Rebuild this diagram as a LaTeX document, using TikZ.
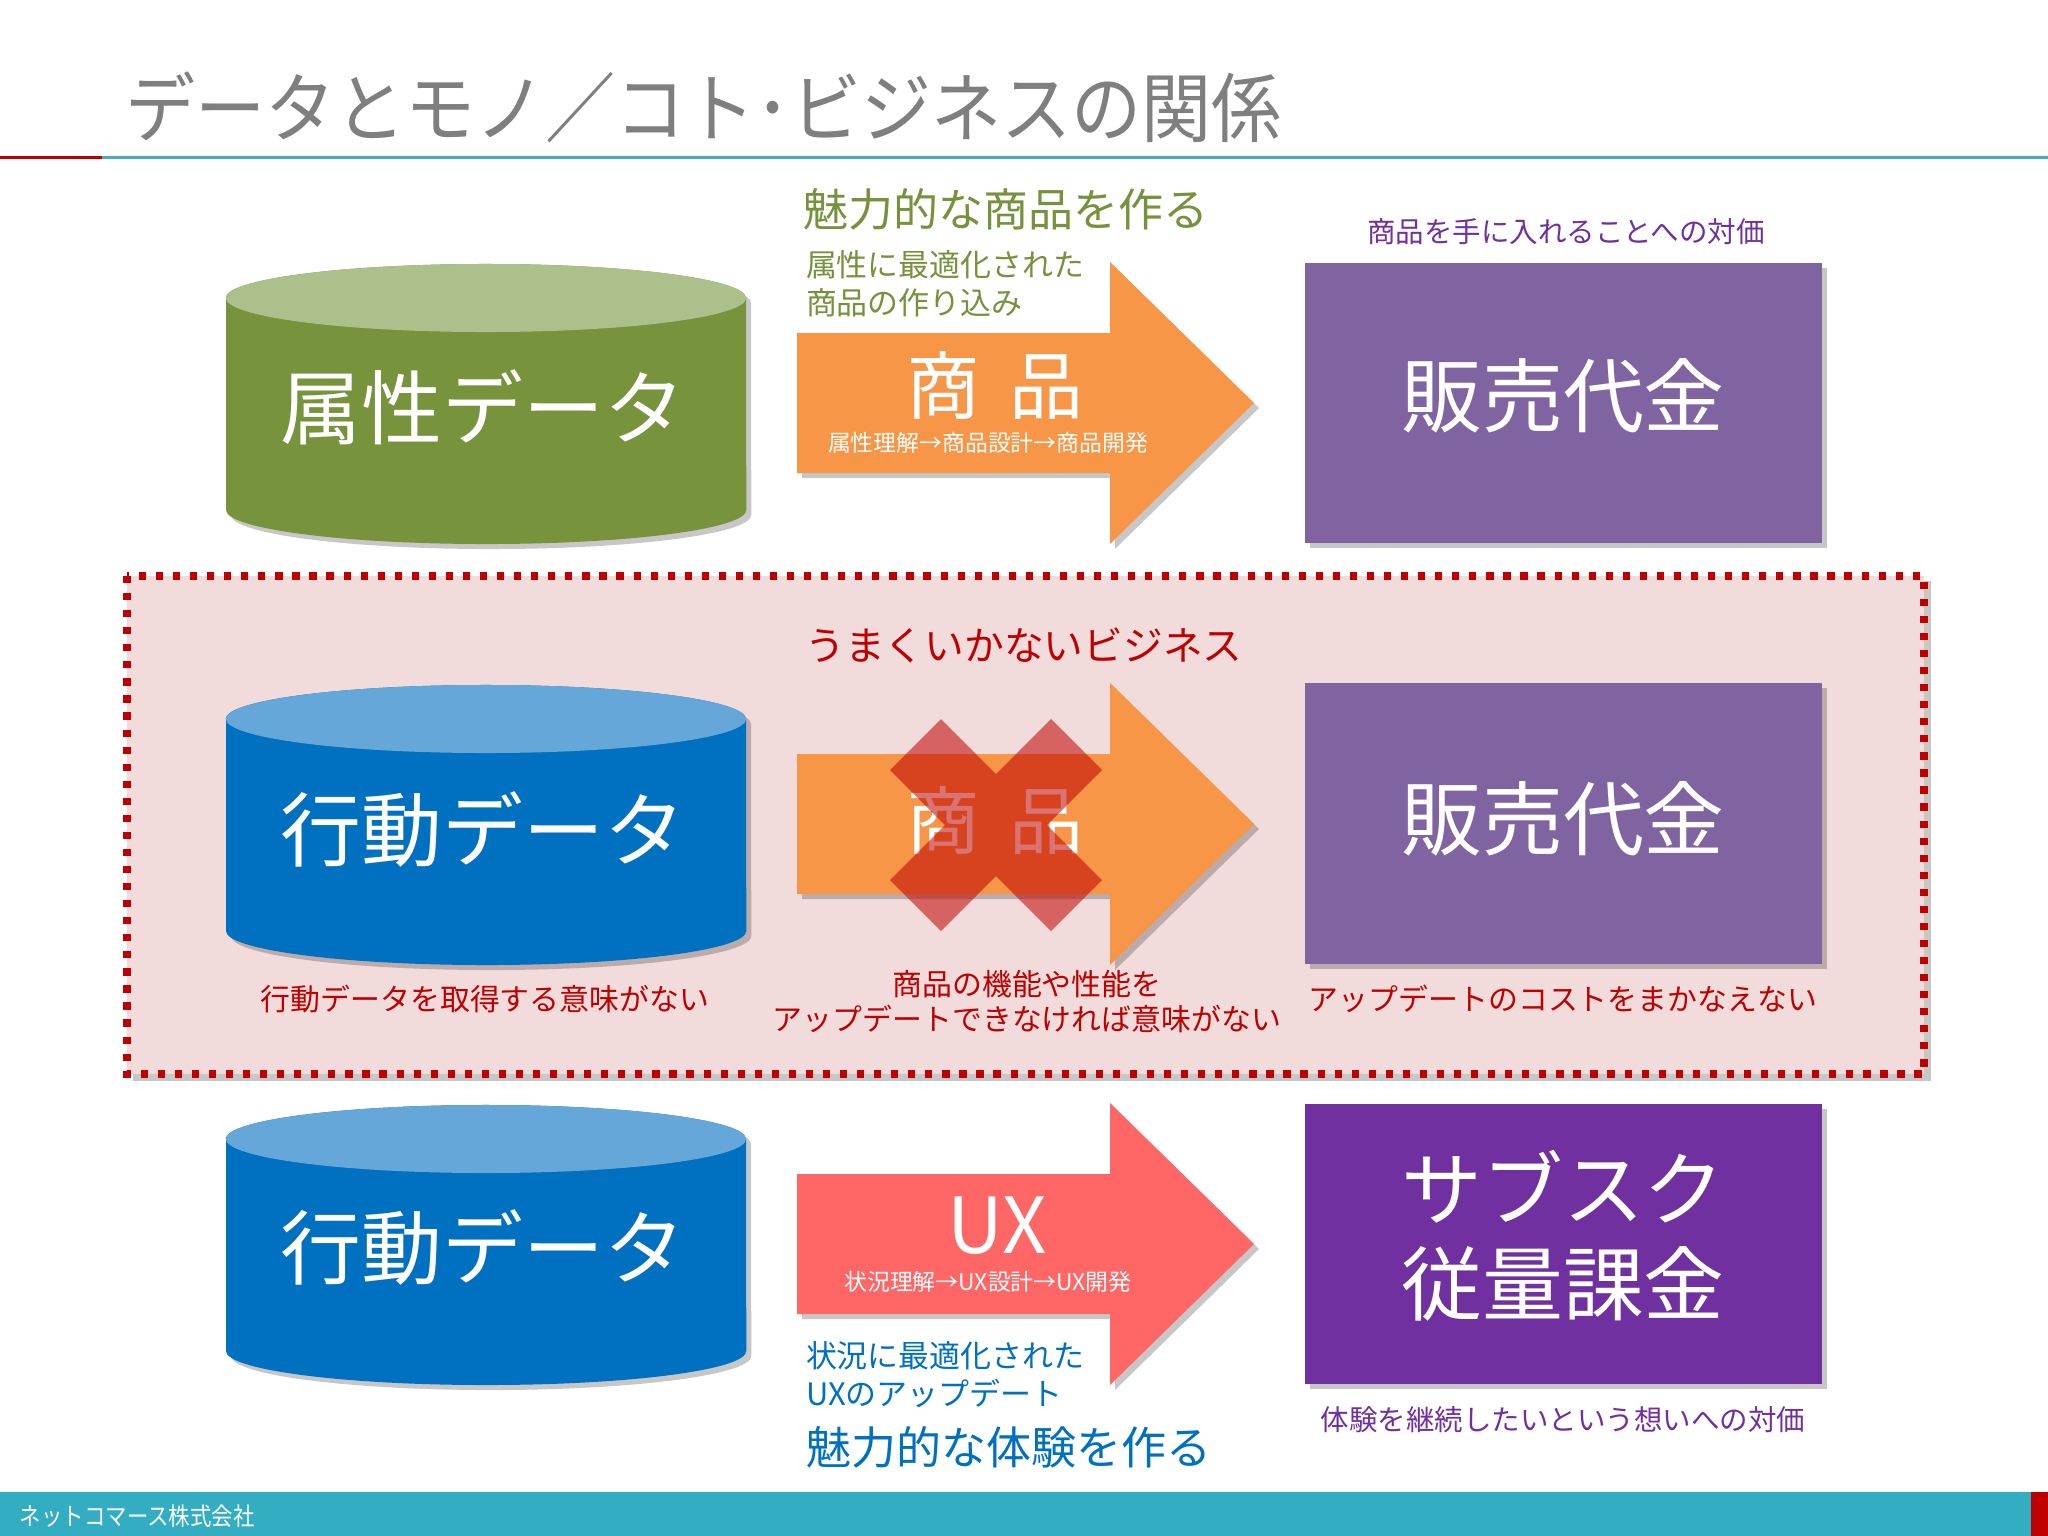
\documentclass[tikz,border=0pt]{standalone}
\usepackage{fontspec}
\setmainfont{Noto Sans CJK JP}
\usetikzlibrary{shadows}
\definecolor{titlegray}{HTML}{7F7F7F}
\definecolor{olivetxt}{HTML}{76923C}
\definecolor{cylgreen}{HTML}{77933C}
\definecolor{cylgreentop}{HTML}{ABC08B}
\definecolor{cylblue}{HTML}{0070C0}
\definecolor{cylbluetop}{HTML}{65A7D9}
\definecolor{arroworange}{HTML}{F79646}
\definecolor{arrowsalmon}{HTML}{FF6666}
\definecolor{boxlav}{HTML}{8064A2}
\definecolor{boxpurple}{HTML}{7030A0}
\definecolor{purpletxt}{HTML}{7030A0}
\definecolor{darkred}{HTML}{C00000}
\definecolor{pinkbg}{HTML}{F2DCDB}
\definecolor{tealline}{HTML}{4BACC6}
\definecolor{footerteal}{HTML}{33ADC1}
\definecolor{bluetxt}{HTML}{0070C0}
\newcommand\cylshape[3]{%
  \fill[#2, shadowed] (226,#1-105) -- (226,#1+107)
    arc[start angle=180, end angle=360, x radius=2.6cm, y radius=0.34cm]
    -- (746,#1-105)
    arc[start angle=0, end angle=180, x radius=2.6cm, y radius=0.34cm] -- cycle;
  \fill[#3] (486,#1-105) ellipse[x radius=2.6cm, y radius=0.34cm];
}
\newcommand\blockarrow[2]{%
  \fill[#2, shadowed] (797,#1-70) -- (1110,#1-70) -- (1110,#1-141) -- (1254,#1)
    -- (1110,#1+141) -- (1110,#1+70) -- (797,#1+70) -- cycle;
}
\tikzset{
  base/.style={inner sep=0pt, outer sep=0pt},
  shadowed/.style={drop shadow={shadow xshift=0.05cm, shadow yshift=-0.05cm, opacity=0.22, fill=black}},
  titletxt/.style={base, text=titlegray, font=\fontsize{21.6}{24}\selectfont, xscale=0.923},
  bigw/.style={base, text=white, font=\fontsize{23}{27}\selectfont, align=center},
  arrbig/.style={base, text=white, font=\fontsize{21}{24}\selectfont},
  arrsmall/.style={base, text=white, font=\fontsize{6.5}{8}\selectfont},
  headg/.style={base, text=olivetxt, font=\fontsize{12.8}{15}\selectfont},
  headb/.style={base, text=bluetxt, font=\fontsize{12.8}{15}\selectfont},
  smallg/.style={base, text=olivetxt, font=\fontsize{8.8}{10.8}\selectfont, align=left},
  smallb/.style={base, text=bluetxt, font=\fontsize{8.8}{10.8}\selectfont, align=left},
  caption/.style={base, text=purpletxt, font=\fontsize{8.1}{10}\selectfont},
  redhead/.style={base, text=darkred, font=\fontsize{11.3}{13}\selectfont},
  redtxt/.style={base, text=darkred, font=\fontsize{8.5}{10}\selectfont, align=center},
  footertxt/.style={base, text=white, font=\fontsize{7}{8}\selectfont, xscale=0.87},
  dotframe/.style={fill=pinkbg, draw=darkred, line width=2.05pt, dash pattern=on 2.05pt off 2.8pt},
}
\begin{document}
\begin{tikzpicture}[x=0.01cm, y=-0.01cm]
\useasboundingbox (0,0) rectangle (2048,1536);
\fill[white] (0,0) rectangle (2048,1536);

% title
\node[titletxt, anchor=west] (title) at (125,107) {データとモノ／コト･ビジネスの関係};
\fill[darkred] (0,155.5) rectangle (102,158.5);
\fill[tealline] (102,155.5) rectangle (2048,158.5);

% footer
\fill[footerteal] (0,1492) rectangle (2048,1536);
\fill[darkred] (2031,1492) rectangle (2048,1536);
\node[footertxt, anchor=west] (foot) at (20,1516) {ネットコマース株式会社};

% middle panel
\fill[black, opacity=0.22] (133,581) rectangle (1931,1081);
\draw[dotframe] (127,576) rectangle (1924,1074);

% ---------- row 1 ----------
\cylshape{403}{cylgreen}{cylgreentop}
\node[bigw] (attr) at (483,407) {属性データ};
\node[headg] (h1) at (1006,209) {魅力的な商品を作る};
\node[smallg, anchor=west] (s1) at (806,284) {属性に最適化された\\商品の作り込み};
\blockarrow{403}{arroworange}
\node[arrbig] (p1) at (995,385) {商\hspace{0.4em}品};
\node[arrsmall] (p1s) at (988,443) {属性理解→商品設計→商品開発};
\node[caption] (c1) at (1566,232) {商品を手に入れることへの対価};
\fill[boxlav, shadowed] (1305,263) rectangle (1822,543);
\node[bigw] (sale1) at (1563,396) {販売代金};

% ---------- row 2 ----------
\node[redhead] (bad) at (1024,645) {うまくいかないビジネス};
\cylshape{824}{cylblue}{cylbluetop}
\node[bigw] (act1) at (483,829) {行動データ};
\blockarrow{824}{arroworange}
\node[arrbig] (p2) at (995,820) {商\hspace{0.4em}品};
\fill[darkred, opacity=0.55, shift={(996,825)}]
  (-55,-106) -- (0,-51) -- (55,-106) -- (106,-55) -- (51,0) -- (106,55)
  -- (55,106) -- (0,51) -- (-55,106) -- (-106,55) -- (-51,0) -- (-106,-55) -- cycle;
\fill[boxlav, shadowed] (1305,683) rectangle (1822,964);
\node[bigw] (sale2) at (1563,819) {販売代金};
\node[redtxt] (n1) at (485,999) {行動データを取得する意味がない};
\node[redtxt] (n2) at (1027,1002) {商品の機能や性能を\\アップデートできなければ意味がない};
\node[redtxt] (n3) at (1563,999) {アップデートのコストをまかなえない};

% ---------- row 3 ----------
\cylshape{1244}{cylblue}{cylbluetop}
\node[bigw] (act2) at (483,1247) {行動データ};
\blockarrow{1244}{arrowsalmon}
\node[base, text=white, font=\fontsize{22}{24}\selectfont] (ux) at (997,1226) {UX};
\node[arrsmall] (uxs) at (988,1282) {状況理解→UX設計→UX開発};
\node[smallb, anchor=west] (s3) at (806,1375) {状況に最適化された\\UXのアップデート};
\node[headb, anchor=west] (h3) at (806,1447) {魅力的な体験を作る};
\fill[boxpurple, shadowed] (1305,1104) rectangle (1822,1384);
\node[bigw, font=\fontsize{23}{27}\selectfont] (sub) at (1563,1236) {サブスク\\従量課金};
\node[caption] (c3) at (1563,1420) {体験を継続したいという想いへの対価};
\end{tikzpicture}
\end{document}
